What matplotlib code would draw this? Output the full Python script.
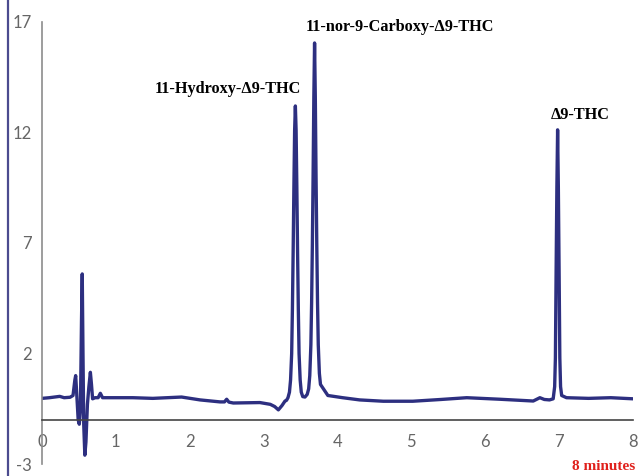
import matplotlib
matplotlib.use("Agg")
import matplotlib.pyplot as plt
from matplotlib.lines import Line2D

plt.rcParams["axes.unicode_minus"] = False

# Chromatogram trace (time in minutes, detector signal)
time = [0.00, 0.10, 0.24, 0.30, 0.38, 0.42,
        0.445, 0.456, 0.47, 0.49, 0.505, 0.52, 0.535, 0.545, 0.555, 0.565,
        0.58, 0.595, 0.615, 0.635, 0.655, 0.67, 0.685, 0.72, 0.76, 0.79, 0.82,
        1.00, 1.23, 1.50, 1.89, 2.14, 2.41, 2.47, 2.50, 2.53, 2.59, 2.95,
        3.09, 3.15, 3.20, 3.25, 3.29, 3.31, 3.33,
        3.35, 3.365, 3.38, 3.39, 3.40, 3.41, 3.42, 3.43, 3.44, 3.45, 3.46,
        3.47, 3.48, 3.495, 3.51, 3.53, 3.56,
        3.59, 3.61, 3.625, 3.64, 3.65, 3.66, 3.67, 3.68, 3.69, 3.70, 3.71,
        3.72, 3.73, 3.74, 3.755, 3.77, 3.81, 3.87, 4.07,
        4.30, 4.62, 5.02, 5.40, 5.75, 6.20, 6.65, 6.74, 6.80, 6.87, 6.92,
        6.94, 6.95, 6.96, 6.97, 6.98, 6.99, 7.00, 7.01, 7.02, 7.035, 7.10,
        7.40, 7.70, 8.00]
signal = [-0.03, 0.0, 0.06, 0.0, 0.02, 0.1,
          0.8, 1.0, 0.2, -1.0, -1.2, -0.6, 3.5, 5.6, 2.0, -1.2,
          -2.6, -2.0, -0.3, 0.5, 1.15, 0.6, -0.05, 0.0, 0.0, 0.2, 0.0,
          0.0, 0.0, -0.03, 0.03, -0.1, -0.19, -0.19, -0.07, -0.2, -0.24, -0.22,
          -0.3, -0.4, -0.55, -0.35, -0.15, -0.12, 0.0,
          0.25, 0.8, 2.0, 4.0, 6.6, 9.5, 12.1, 13.2, 12.1, 9.5, 6.6,
          4.0, 2.0, 0.8, 0.25, 0.05, 0.03,
          0.15, 0.4, 1.0, 2.4, 4.3, 6.9, 10.0, 13.6, 16.05, 13.6, 10.0,
          6.9, 4.3, 2.4, 1.1, 0.6, 0.4, 0.1, 0.0,
          -0.1, -0.16, -0.16, -0.08, 0.0, -0.07, -0.15, 0.0, -0.08, -0.1, -0.05,
          0.5, 1.8, 5.8, 9.5, 12.12, 9.5, 5.8, 1.8, 0.5, 0.1, 0.0,
          -0.03, 0.0, -0.05]

# Peak labels
peak_names = ["11-Hydroxy-Δ9-THC", "11-nor-9-Carboxy-Δ9-THC", "Δ9-THC"]
label_x = [2.52, 4.84, 7.29]
label_y = [13.98, 16.77, 12.77]

x_ticks = [0, 1, 2, 3, 4, 5, 6, 7, 8]
y_ticks = [-3, 2, 7, 12, 17]

fig = plt.figure(figsize=(6.4, 4.76), dpi=100)
ax = fig.add_axes([0.0656, 0.0252, 0.9234, 0.9286])

ax.plot(time, signal, color="#2d2f80", linewidth=2.4, solid_joinstyle="round")

ax.set_xlim(0, 8)
ax.set_ylim(-3, 17)

# axis lines: y axis from -3 to 17, x axis crossing at -1
ax.spines["top"].set_visible(False)
ax.spines["right"].set_visible(False)
ax.spines["left"].set_color("#8c8c8c")
ax.spines["left"].set_linewidth(1.2)
ax.spines["bottom"].set_position(("data", -1))
ax.spines["bottom"].set_color("#444444")
ax.spines["bottom"].set_linewidth(1.2)

ax.set_xticks(x_ticks)
ax.set_yticks(y_ticks)
ax.tick_params(axis="both", length=0, labelcolor="#666666", labelsize=12)
ax.tick_params(axis="x", pad=10)
ax.tick_params(axis="y", pad=7.5)
for lab in ax.get_xticklabels() + ax.get_yticklabels():
    lab.set_family("Lato")

for name, lx, ly in zip(peak_names, label_x, label_y):
    ax.text(lx, ly, name, ha="center", va="center", fontsize=11.7,
            fontweight="bold", family="Liberation Serif", color="black")

ax.text(7.6, -3.12, "8 minutes", ha="center", va="center", fontsize=11,
        fontweight="bold", family="Liberation Serif", color="#e0201b",
        clip_on=False)

# left frame line of the original figure
fig.add_artist(Line2D([8 / 640, 8 / 640], [0, 1], transform=fig.transFigure,
                      color="#4b4b8f", linewidth=1.6))

fig.savefig("out.png", dpi=100)
